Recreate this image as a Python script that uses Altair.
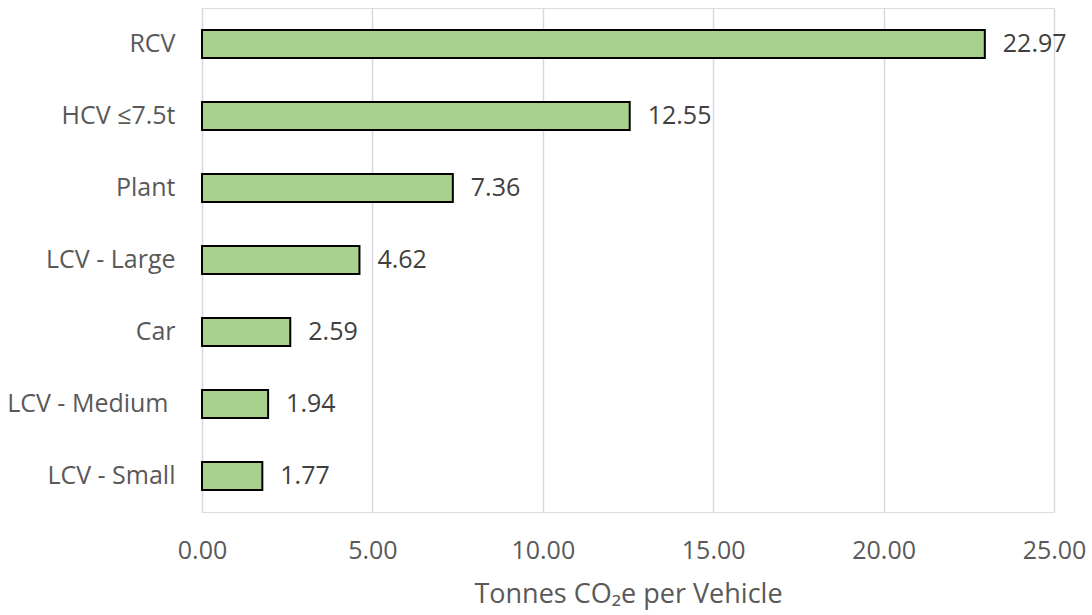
import altair as alt
import pandas as pd

categories = ["RCV", "HCV ≤7.5t", "Plant", "LCV - Large", "Car", "LCV - Medium", "LCV - Small"]
values = [22.97, 12.55, 7.36, 4.62, 2.59, 1.94, 1.77]

df = pd.DataFrame({"category": categories, "value": values})

FONT = "Open Sans"
GRAY = "#595959"

x = alt.X(
    "value:Q",
    scale=alt.Scale(domain=[0, 25], nice=False),
    axis=alt.Axis(
        values=[0, 5, 10, 15, 20, 25],
        format=".2f",
        title="Tonnes CO₂e per Vehicle",
        titleFont=FONT,
        titleFontSize=27,
        titleFontWeight="normal",
        titleColor=GRAY,
        titlePadding=18,
        labelFont=FONT,
        labelFontSize=25,
        labelColor=GRAY,
        labelPadding=26,
        labelFlush=False,
        ticks=False,
        domain=False,
        grid=True,
        gridColor="#d9d9d9",
        gridWidth=1.5,
    ),
)
y = alt.Y(
    "category:N",
    sort=categories,
    scale=alt.Scale(paddingInner=0.61, paddingOuter=0.305),
    axis=alt.Axis(
        title=None,
        labelFont=FONT,
        labelFontSize=25,
        labelColor=GRAY,
        labelPadding={"condition": {"test": "datum.label == 'LCV - Medium'", "value": 34}, "value": 27},
        ticks=False,
        domain=False,
        grid=False,
    ),
)

bars = alt.Chart(df).mark_bar(
    color="#A9D18E", stroke="#000000", strokeWidth=2
).encode(x=x, y=y)

labels = alt.Chart(df).mark_text(
    align="left", baseline="middle", dx=18, font=FONT, fontSize=25, color="#404040"
).encode(
    x="value:Q",
    y=alt.Y("category:N", sort=categories),
    text=alt.Text("value:Q", format=".2f"),
)

chart = (
    alt.layer(bars, labels)
    .properties(
        width=852,
        height=504,
        autosize=alt.AutoSizeParams(type="none"),
        padding={"left": 202, "top": 8, "right": 38, "bottom": 103},
    )
    .configure_view(strokeWidth=0, stroke="transparent")
    .configure(background="white")
)

chart.save("out.html", embed_options={"renderer": "svg", "actions": False})
